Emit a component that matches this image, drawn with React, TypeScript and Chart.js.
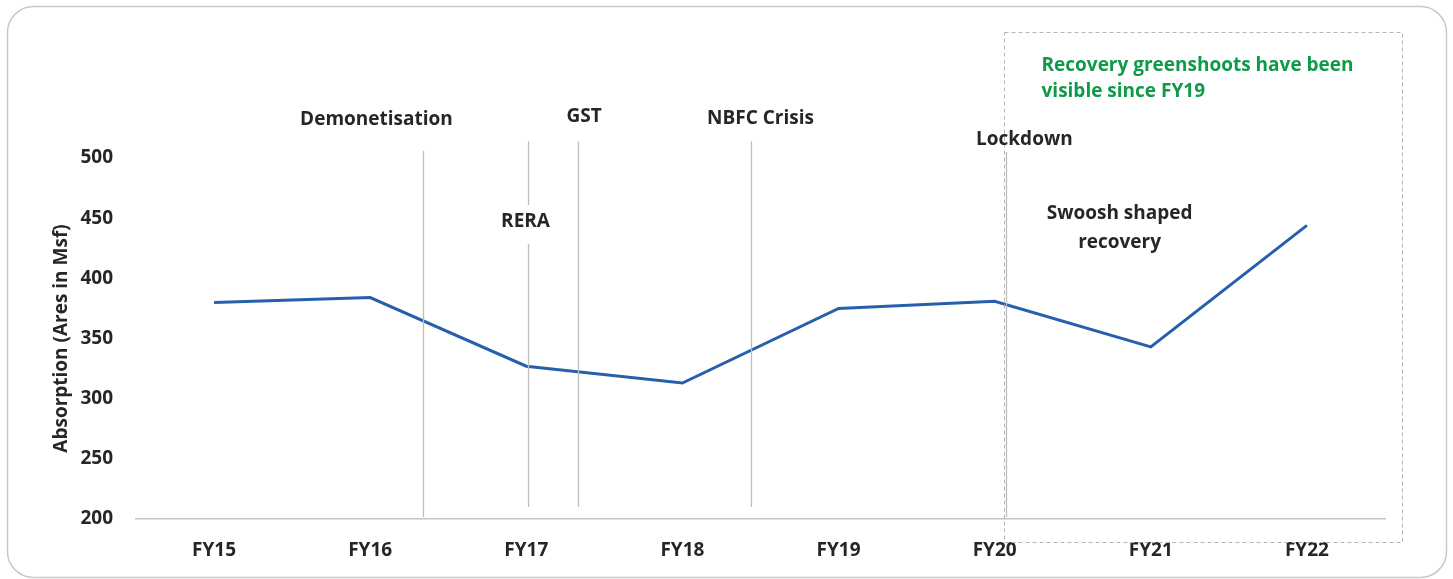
import React, { useEffect, useRef } from "react";
import { Chart, registerables } from "chart.js";

Chart.register(...registerables);

const categories = ["FY15", "FY16", "FY17", "FY18", "FY19", "FY20", "FY21", "FY22"];
const absorption = [380, 384, 327, 313, 375, 381, 343, 444];
const yMin = 200;
const yMax = 500;
const yStep = 50;
const yTitle = "Absorption (Ares in Msf)";

// event markers: label, x position (category index), line top/bottom (y values)
const eventNames = ["Demonetisation", "RERA", "GST", "NBFC Crisis", "Lockdown"];
const eventX = [1.34, 2.01, 2.33, 3.44, 5.07];
const eventLineTop = [506, 514, 514, 514, 505];
const eventLineBottom = [201.7, 210, 210, 210, 201.7];
const eventLabelX = [1.04, 1.995, 2.37, 3.5, 5.19];
const eventLabelY = [532, 447, 534, 533, 515];

const noteLines = ["Swoosh shaped", "recovery"];
const noteX = 5.8;
const noteY = [453.5, 430];

const greenLines = ["Recovery greenshoots have been", "visible since FY19"];
const greenX = 5.3;
const greenY = [577, 555];
const boxX = [5.06, 7.61];
const boxY = [604.7, 181];

const FONT = "'Open Sans', 'Noto Sans', sans-serif";
const TEXT = "#262626";

const overlay = {
  id: "overlay",
  beforeDraw(chart: any) {
    const ctx = chart.ctx;
    ctx.save();
    ctx.fillStyle = "#ffffff";
    ctx.fillRect(0, 0, chart.width, chart.height);
    ctx.strokeStyle = "#c9c9c9";
    ctx.lineWidth = 1.5;
    ctx.beginPath();
    (ctx as any).roundRect(7.5, 6.5, 1439, 571, 26);
    ctx.stroke();
    ctx.restore();
  },
  afterDatasetsDraw(chart: any) {
    const ctx = chart.ctx;
    const xs = chart.scales.x;
    const ys = chart.scales.y;
    ctx.save();
    // vertical event lines
    ctx.strokeStyle = "#bdbdbd";
    ctx.lineWidth = 1.3;
    eventNames.forEach((name, i) => {
      const x = Math.round(xs.getPixelForValue(eventX[i])) + 0.5;
      const t = ys.getPixelForValue(eventLineTop[i]);
      const b = ys.getPixelForValue(eventLineBottom[i]);
      ctx.beginPath();
      if (name === "RERA") {
        const g1 = ys.getPixelForValue(461);
        const g2 = ys.getPixelForValue(428.5);
        ctx.moveTo(x, t);
        ctx.lineTo(x, g1);
        ctx.moveTo(x, g2);
        ctx.lineTo(x, b);
      } else {
        ctx.moveTo(x, t);
        ctx.lineTo(x, b);
      }
      ctx.stroke();
    });
    // dashed box
    ctx.strokeStyle = "#b5b5b5";
    ctx.lineWidth = 1;
    ctx.setLineDash([4, 3]);
    const bx1 = Math.round(xs.getPixelForValue(boxX[0])) + 0.5;
    const bx2 = Math.round(xs.getPixelForValue(boxX[1])) + 0.5;
    const by1 = Math.round(ys.getPixelForValue(boxY[0])) + 0.5;
    const by2 = Math.round(ys.getPixelForValue(boxY[1])) + 0.5;
    ctx.strokeRect(bx1, by1, bx2 - bx1, by2 - by1);
    ctx.setLineDash([]);
    // labels
    ctx.font = `bold 19px ${FONT}`;
    ctx.fillStyle = TEXT;
    ctx.textAlign = "center";
    ctx.textBaseline = "middle";
    eventNames.forEach((name, i) => {
      ctx.fillText(name, xs.getPixelForValue(eventLabelX[i]), ys.getPixelForValue(eventLabelY[i]));
    });
    noteLines.forEach((t, i) => {
      ctx.fillText(t, xs.getPixelForValue(noteX), ys.getPixelForValue(noteY[i]));
    });
    ctx.fillStyle = "#0f9a4a";
    ctx.textAlign = "left";
    greenLines.forEach((t, i) => {
      ctx.fillText(t, xs.getPixelForValue(greenX), ys.getPixelForValue(greenY[i]));
    });
    ctx.restore();
  },
};

export default function App() {
  const ref = useRef<HTMLCanvasElement | null>(null);
  useEffect(() => {
    if (!ref.current) return;
    const chart = new Chart(ref.current, {
      type: "line",
      data: {
        labels: categories,
        datasets: [
          {
            data: absorption,
            borderColor: "#2660ad",
            borderWidth: 3,
            pointRadius: 0,
            tension: 0,
            fill: false,
          },
        ],
      },
      options: {
        responsive: false,
        animation: false,
        layout: { padding: { top: 158, right: 68, bottom: 0, left: 0 } },
        plugins: { legend: { display: false }, tooltip: { enabled: false } },
        scales: {
          x: {
            offset: true,
            grid: { display: false, drawTicks: false },
            border: { display: true, color: "#c4c4c4", width: 1.5 },
            ticks: {
              color: TEXT,
              font: { family: FONT, size: 19, weight: "bold" },
              padding: 20,
              maxRotation: 0,
            },
            afterFit(scale: any) {
              scale.height = 60;
            },
          },
          y: {
            min: yMin,
            max: yMax,
            grid: { display: false, drawTicks: false },
            border: { display: false },
            ticks: {
              stepSize: yStep,
              color: TEXT,
              font: { family: FONT, size: 19, weight: "bold" },
              padding: 23,
            },
            title: {
              display: true,
              text: yTitle,
              color: TEXT,
              font: { family: FONT, size: 19, weight: "bold" },
              padding: { top: 50, bottom: 0 },
            },
            afterFit(scale: any) {
              scale.width = 136;
            },
          },
        },
      },
      plugins: [overlay],
    });
    return () => chart.destroy();
  }, []);
  return (
    <div style={{ position: "fixed", left: 0, top: 0, width: 1453, height: 579 }}>
      <canvas ref={ref} width={1453} height={579} style={{ width: 1453, height: 579 }} />
    </div>
  );
}
